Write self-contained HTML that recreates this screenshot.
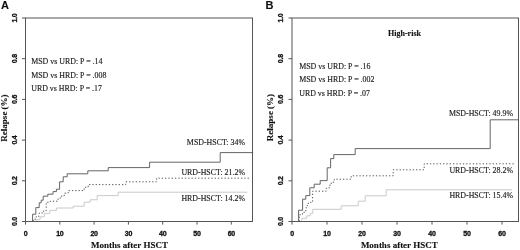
<!DOCTYPE html>
<html><head><meta charset="utf-8"><title>Relapse after HSCT</title>
<style>
html,body{margin:0;padding:0;background:#fff;}
svg{display:block}
text{fill:#222}
.an,.lb{stroke:#222;stroke-width:0.15px}
.ax,.hr,.pn{stroke:#111;stroke-width:0.12px}
.tk{stroke:#111;stroke-width:0.3px;letter-spacing:-0.25px}
.tk{font-family:"Liberation Sans",Arial,sans-serif;font-weight:bold;font-size:7px;fill:#111}
.ax{font-family:"Liberation Serif","Times New Roman",serif;font-weight:bold;font-size:9px;fill:#111}
.an{font-family:"Liberation Serif","Times New Roman",serif;font-size:7.9px;fill:#222}
.lb{font-family:"Liberation Serif","Times New Roman",serif;font-size:7.9px;fill:#222}
.pn{font-family:"Liberation Sans",Arial,sans-serif;font-weight:bold;font-size:11px;fill:#111}
.hr{font-family:"Liberation Serif","Times New Roman",serif;font-weight:bold;font-size:8px;fill:#111}
</style></head><body>
<svg width="520" height="250" viewBox="0 0 520 250">
<rect width="520" height="250" fill="#fff"/>
<!-- Panel A -->
<text class="pn" x="1" y="9.2">A</text>
<rect x="25.5" y="18" width="227.0" height="203.5" fill="none" stroke="#555" stroke-width="1"/>
<line x1="25.5" y1="221.5" x2="25.5" y2="224.6" stroke="#555" stroke-width="1"/>
<text class="tk" x="25.5" y="236.3" text-anchor="middle">0</text>
<line x1="59.8" y1="221.5" x2="59.8" y2="224.6" stroke="#555" stroke-width="1"/>
<text class="tk" x="59.8" y="236.3" text-anchor="middle">10</text>
<line x1="94.1" y1="221.5" x2="94.1" y2="224.6" stroke="#555" stroke-width="1"/>
<text class="tk" x="94.1" y="236.3" text-anchor="middle">20</text>
<line x1="128.4" y1="221.5" x2="128.4" y2="224.6" stroke="#555" stroke-width="1"/>
<text class="tk" x="128.4" y="236.3" text-anchor="middle">30</text>
<line x1="162.7" y1="221.5" x2="162.7" y2="224.6" stroke="#555" stroke-width="1"/>
<text class="tk" x="162.7" y="236.3" text-anchor="middle">40</text>
<line x1="197.0" y1="221.5" x2="197.0" y2="224.6" stroke="#555" stroke-width="1"/>
<text class="tk" x="197.0" y="236.3" text-anchor="middle">50</text>
<line x1="231.3" y1="221.5" x2="231.3" y2="224.6" stroke="#555" stroke-width="1"/>
<text class="tk" x="231.3" y="236.3" text-anchor="middle">60</text>
<line x1="22.0" y1="221.5" x2="25.5" y2="221.5" stroke="#555" stroke-width="1"/>
<text class="tk" transform="translate(16.7,221.5) rotate(-90)" text-anchor="middle">0.0</text>
<line x1="22.0" y1="180.8" x2="25.5" y2="180.8" stroke="#555" stroke-width="1"/>
<text class="tk" transform="translate(16.7,180.8) rotate(-90)" text-anchor="middle">0.2</text>
<line x1="22.0" y1="140.1" x2="25.5" y2="140.1" stroke="#555" stroke-width="1"/>
<text class="tk" transform="translate(16.7,140.1) rotate(-90)" text-anchor="middle">0.4</text>
<line x1="22.0" y1="99.4" x2="25.5" y2="99.4" stroke="#555" stroke-width="1"/>
<text class="tk" transform="translate(16.7,99.4) rotate(-90)" text-anchor="middle">0.6</text>
<line x1="22.0" y1="58.7" x2="25.5" y2="58.7" stroke="#555" stroke-width="1"/>
<text class="tk" transform="translate(16.7,58.7) rotate(-90)" text-anchor="middle">0.8</text>
<line x1="22.0" y1="18.0" x2="25.5" y2="18.0" stroke="#555" stroke-width="1"/>
<text class="tk" transform="translate(16.7,18.0) rotate(-90)" text-anchor="middle">1.0</text>

<text class="ax" transform="translate(7.2,118) rotate(-90)" text-anchor="middle">Relapse (%)</text>
<text class="ax" x="129.5" y="248.4" text-anchor="middle">Months after HSCT</text>
<text class="an" x="31.2" y="64.3">MSD vs URD: P = .14</text>
<text class="an" x="31.2" y="78">MSD vs HRD: P = .008</text>
<text class="an" x="31.2" y="91.4">URD vs HRD: P = .17</text>
<path d="M36.2,221.2 L36.2,221.2 L36.2,219.7 L40.0,219.7 L40.0,216.8 L44.2,216.8 L44.2,213.4 L49.8,213.4 L49.8,210.4 L56.4,210.4 L56.4,208.0 L73.2,208.0 L73.2,206.2 L84.2,206.2 L84.2,202.2 L90.2,202.2 L90.2,199.8 L97.2,199.8 L97.2,195.6 L118.2,195.6 L118.2,192.2 L247.2,192.2" fill="none" stroke="#c4c4c4" stroke-width="0.9"/>
<path d="M33.2,221.2 L33.2,221.2 L33.2,219.2 L36.2,219.2 L36.2,216.2 L39.2,216.2 L39.2,213.2 L42.2,213.2 L42.2,211.2 L46.2,211.2 L46.2,202.2 L50.2,202.2 L50.2,201.2 L57.2,201.2 L57.2,199.2 L60.2,199.2 L60.2,196.2 L64.2,196.2 L64.2,193.2 L68.2,193.2 L68.2,190.6 L84.2,190.6 L84.2,187.2 L88.2,187.2 L88.2,184.6 L125.8,184.6 L125.8,181.8 L156.6,181.8 L156.6,178.2 L249.2,178.2" fill="none" stroke="#444" stroke-width="0.9" stroke-dasharray="1.3 2"/>
<path d="M32.6,221.2 L32.6,221.2 L32.6,214.2 L35.8,214.2 L35.8,207.6 L39.2,207.6 L39.2,202.8 L41.2,202.8 L41.2,200.2 L43.2,200.2 L43.2,196.2 L47.8,196.2 L47.8,194.2 L53.0,194.2 L53.0,191.6 L56.4,191.6 L56.4,189.2 L59.6,189.2 L59.6,181.8 L63.2,181.8 L63.2,176.8 L67.2,176.8 L67.2,173.8 L87.8,173.8 L87.8,170.8 L108.2,170.8 L108.2,167.6 L149.6,167.6 L149.6,162.2 L220.2,162.2 L220.2,152.6 L253.2,152.6" fill="none" stroke="#555" stroke-width="0.9"/>
<text class="lb" x="245" y="145" text-anchor="end">MSD-HSCT: 34%</text>
<text class="lb" x="245" y="175" text-anchor="end">URD-HSCT: 21.2%</text>
<text class="lb" x="245" y="201.4" text-anchor="end">HRD-HSCT: 14.2%</text>
<!-- Panel B -->
<text class="pn" x="265.5" y="9.2">B</text>
<rect x="292" y="18" width="226.5" height="203.5" fill="none" stroke="#555" stroke-width="1"/>
<line x1="292.0" y1="221.5" x2="292.0" y2="224.6" stroke="#555" stroke-width="1"/>
<text class="tk" x="292.0" y="236.3" text-anchor="middle">0</text>
<line x1="327.0" y1="221.5" x2="327.0" y2="224.6" stroke="#555" stroke-width="1"/>
<text class="tk" x="327.0" y="236.3" text-anchor="middle">10</text>
<line x1="362.0" y1="221.5" x2="362.0" y2="224.6" stroke="#555" stroke-width="1"/>
<text class="tk" x="362.0" y="236.3" text-anchor="middle">20</text>
<line x1="397.0" y1="221.5" x2="397.0" y2="224.6" stroke="#555" stroke-width="1"/>
<text class="tk" x="397.0" y="236.3" text-anchor="middle">30</text>
<line x1="432.0" y1="221.5" x2="432.0" y2="224.6" stroke="#555" stroke-width="1"/>
<text class="tk" x="432.0" y="236.3" text-anchor="middle">40</text>
<line x1="467.0" y1="221.5" x2="467.0" y2="224.6" stroke="#555" stroke-width="1"/>
<text class="tk" x="467.0" y="236.3" text-anchor="middle">50</text>
<line x1="502.0" y1="221.5" x2="502.0" y2="224.6" stroke="#555" stroke-width="1"/>
<text class="tk" x="502.0" y="236.3" text-anchor="middle">60</text>
<line x1="288.5" y1="221.5" x2="292" y2="221.5" stroke="#555" stroke-width="1"/>
<text class="tk" transform="translate(283.2,221.5) rotate(-90)" text-anchor="middle">0.0</text>
<line x1="288.5" y1="180.8" x2="292" y2="180.8" stroke="#555" stroke-width="1"/>
<text class="tk" transform="translate(283.2,180.8) rotate(-90)" text-anchor="middle">0.2</text>
<line x1="288.5" y1="140.1" x2="292" y2="140.1" stroke="#555" stroke-width="1"/>
<text class="tk" transform="translate(283.2,140.1) rotate(-90)" text-anchor="middle">0.4</text>
<line x1="288.5" y1="99.4" x2="292" y2="99.4" stroke="#555" stroke-width="1"/>
<text class="tk" transform="translate(283.2,99.4) rotate(-90)" text-anchor="middle">0.6</text>
<line x1="288.5" y1="58.7" x2="292" y2="58.7" stroke="#555" stroke-width="1"/>
<text class="tk" transform="translate(283.2,58.7) rotate(-90)" text-anchor="middle">0.8</text>
<line x1="288.5" y1="18.0" x2="292" y2="18.0" stroke="#555" stroke-width="1"/>
<text class="tk" transform="translate(283.2,18.0) rotate(-90)" text-anchor="middle">1.0</text>

<text class="ax" transform="translate(273.4,117.5) rotate(-90)" text-anchor="middle">Relapse (%)</text>
<text class="ax" x="399.3" y="248.2" text-anchor="middle">Months after HSCT</text>
<text class="hr" x="404.5" y="35.6" text-anchor="middle">High-risk</text>
<text class="an" x="299.2" y="69">MSD vs URD: P = .16</text>
<text class="an" x="299.2" y="82.4">MSD vs HRD: P = .002</text>
<text class="an" x="299.2" y="95.7">URD vs HRD: P = .07</text>
<path d="M301.8,221.2 L301.8,221.2 L301.8,218.3 L306.8,218.3 L306.8,215.8 L310.3,215.8 L310.3,213.3 L312.8,213.3 L312.8,209.3 L341.2,209.3 L341.2,205.8 L358.2,205.8 L358.2,201.2 L365.2,201.2 L365.2,195.8 L386.2,195.8 L386.2,189.8 L512.2,189.8" fill="none" stroke="#c4c4c4" stroke-width="0.9"/>
<path d="M299.2,221.2 L299.2,221.2 L299.2,214.8 L302.5,214.8 L302.5,212.3 L305.8,212.3 L305.8,207.8 L307.3,207.8 L307.3,203.3 L310.8,203.3 L310.8,201.8 L312.6,201.8 L312.6,191.2 L326.2,191.2 L326.2,188.2 L329.2,188.2 L329.2,185.2 L331.2,185.2 L331.2,182.2 L334.2,182.2 L334.2,179.2 L351.2,179.2 L351.2,175.8 L393.2,175.8 L393.2,169.8 L424.2,169.8 L424.2,163.8 L514.2,163.8" fill="none" stroke="#444" stroke-width="0.9" stroke-dasharray="1.3 2"/>
<path d="M298.6,221.2 L298.6,221.2 L298.6,210.2 L302.6,210.2 L302.6,199.2 L305.8,199.2 L305.8,195.6 L309.8,195.6 L309.8,187.8 L314.2,187.8 L314.2,184.2 L320.2,184.2 L320.2,180.6 L327.2,180.6 L327.2,167.8 L330.6,167.8 L330.6,158.6 L333.8,158.6 L333.8,154.6 L355.2,154.6 L355.2,148.6 L490.2,148.6 L490.2,119.8 L518.8,119.8" fill="none" stroke="#555" stroke-width="0.9"/>
<text class="lb" x="513" y="116" text-anchor="end">MSD-HSCT: 49.9%</text>
<text class="lb" x="513" y="173.4" text-anchor="end">URD-HSCT: 28.2%</text>
<text class="lb" x="513" y="198" text-anchor="end">HRD-HSCT: 15.4%</text>
</svg>
</body></html>
